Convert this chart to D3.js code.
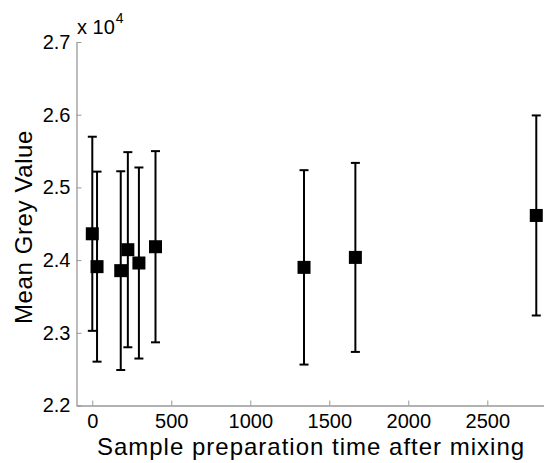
<!DOCTYPE html>
<html>
<head>
<meta charset="utf-8">
<script src="https://cdn.jsdelivr.net/npm/d3@7"></script>
<style>
  body { margin: 0; background: #fff; }
  text { font-family: "Liberation Sans", Arial, sans-serif; }
</style>
</head>
<body>
<script>
// data
const times = [0, 30, 180, 225, 295, 400, 1340, 1665, 2810];
const means = [24362, 23910, 23855, 24143, 23960, 24184, 23900, 24037, 24614];
const errs  = [1335, 1307, 1367, 1342, 1314, 1315, 1337, 1300, 1376];
const xTicks = [0, 500, 1000, 1500, 2000, 2500];
const yTicks = [22000, 23000, 24000, 25000, 26000, 27000];

const data = times.map((t, i) => ({t: t, m: means[i], e: errs[i]}));

const W = 544, H = 463;
const svg = d3.select('body').append('svg').attr('width', W).attr('height', H);

const xScale = d3.scaleLinear().domain([-100, 3000]).range([76.5, 566.3]);
const yScale = d3.scaleLinear().domain([22000, 27000]).range([405.5, 42]);

// axes
const xAxis = d3.axisBottom(xScale).tickValues(xTicks).tickSizeInner(-5).tickSizeOuter(0).tickPadding(8)
    .tickFormat(d3.format('d'));
const xAxisG = svg.append('g').attr('transform', `translate(0,${yScale(22000)})`).call(xAxis);
const yAxis = d3.axisLeft(yScale).tickValues(yTicks).tickSizeInner(-5).tickSizeOuter(0).tickPadding(6)
    .tickFormat(d => d3.format('.1f')(d / 10000));
const yAxisG = svg.append('g').attr('transform', `translate(${xScale(-100)},0)`).call(yAxis);

[xAxisG, yAxisG].forEach(g => {
    g.select('.domain').attr('stroke', '#999').attr('stroke-width', 1.3);
    g.selectAll('.tick line').attr('stroke', '#999');
    g.selectAll('.tick text').attr('fill', '#000').attr('font-size', '20px')
        .attr('font-family', '"Liberation Sans", Arial, sans-serif');
});

// exponent label
const expo = svg.append('text').attr('x', 77).attr('y', 34).attr('font-size', '20px').attr('fill', '#000');
expo.append('tspan').text('x 10');
expo.append('tspan').text('4').attr('font-size', '14px').attr('dy', -11).attr('dx', 1);

// axis titles
svg.append('text').text('Sample preparation time after mixing')
    .attr('x', 311).attr('y', 455).attr('text-anchor', 'middle')
    .attr('font-size', '24px').attr('letter-spacing', '1px').attr('fill', '#000');
svg.append('text').text('Mean Grey Value')
    .attr('transform', 'translate(32,227) rotate(-90)').attr('text-anchor', 'middle')
    .attr('font-size', '24px').attr('letter-spacing', '0.6px').attr('fill', '#000');

// error bars
const cap = 4.5;
const bars = svg.append('g').attr('stroke', '#000').attr('stroke-width', 2).attr('fill', 'none');
bars.selectAll('.stem').data(data).enter().append('line')
    .attr('x1', d => xScale(d.t)).attr('x2', d => xScale(d.t))
    .attr('y1', d => yScale(d.m - d.e)).attr('y2', d => yScale(d.m + d.e));
bars.selectAll('.capTop').data(data).enter().append('line')
    .attr('x1', d => xScale(d.t) - cap).attr('x2', d => xScale(d.t) + cap)
    .attr('y1', d => yScale(d.m + d.e)).attr('y2', d => yScale(d.m + d.e));
bars.selectAll('.capBot').data(data).enter().append('line')
    .attr('x1', d => xScale(d.t) - cap).attr('x2', d => xScale(d.t) + cap)
    .attr('y1', d => yScale(d.m - d.e)).attr('y2', d => yScale(d.m - d.e));

// square markers
const sz = 13;
svg.append('g').selectAll('rect').data(data).enter().append('rect')
    .attr('x', d => xScale(d.t) - sz / 2).attr('y', d => yScale(d.m) - sz / 2)
    .attr('width', sz).attr('height', sz).attr('fill', '#000');
</script>
</body>
</html>
